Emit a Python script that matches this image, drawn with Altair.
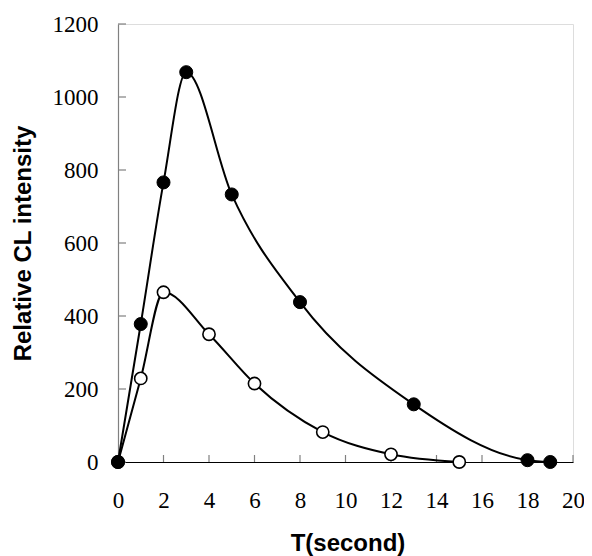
import altair as alt
import pandas as pd

# Filled-circle series
t_filled = [0, 1, 2, 3, 5, 8, 13, 18, 19]
v_filled = [0, 378, 766, 1068, 733, 438, 158, 5, 0]

# Open-circle series
t_open = [0, 1, 2, 4, 6, 9, 12, 15]
v_open = [0, 229, 465, 350, 215, 82, 21, 0]

x_ticks = [0, 2, 4, 6, 8, 10, 12, 14, 16, 18, 20]
y_ticks = [0, 200, 400, 600, 800, 1000, 1200]

W, H = 455, 438
SERIF = "Liberation Serif, Times New Roman, serif"

df_f = pd.DataFrame({"t": t_filled, "v": v_filled})
df_o = pd.DataFrame({"t": t_open, "v": v_open})
df_xt = pd.DataFrame({"t": x_ticks})
df_yt = pd.DataFrame({"v": y_ticks})

xs = alt.Scale(domain=[0, 20], nice=False, zero=False)
ys = alt.Scale(domain=[0, 1200], nice=False, zero=False)

x_axis = alt.Axis(
    values=x_ticks, grid=False, tickSize=0, ticks=False, format="d",
    labelFont=SERIF, labelFontSize=23, labelColor="black",
    labelBaseline="alphabetic", labelPadding=45, labelFlush=False,
    domainColor="black", domainWidth=1.2,
    title="T(second)", titleFont="Liberation Sans", titleFontSize=24,
    titleFontWeight="bold", titleColor="black",
    titleBaseline="alphabetic", titleY=88, titleX=W / 2 + 2, titleAlign="center",
)
y_axis = alt.Axis(
    values=y_ticks, grid=False, tickSize=0, ticks=False, format="d",
    labelFont=SERIF, labelFontSize=23, labelColor="black",
    labelPadding=20, labelFlush=False,
    domainColor="#808080", domainWidth=1.2,
    title="Relative CL intensity", titleFont="Liberation Sans", titleFontSize=24,
    titleFontWeight="bold", titleColor="black",
    titleAngle=270, titleBaseline="alphabetic", titleAlign="center",
    titleX=-88, titleY=H / 2,
)

line_o = alt.Chart(df_o).mark_line(color="black", strokeWidth=2, interpolate="monotone").encode(
    x=alt.X("t:Q", scale=xs, axis=x_axis),
    y=alt.Y("v:Q", scale=ys, axis=y_axis),
)
pts_o = alt.Chart(df_o).mark_point(shape="circle", filled=True, fill="white", stroke="black",
                                   strokeWidth=1.6, size=150, opacity=1).encode(
    x=alt.X("t:Q", scale=xs), y=alt.Y("v:Q", scale=ys))
line_f = alt.Chart(df_f).mark_line(color="black", strokeWidth=2, interpolate="monotone").encode(
    x=alt.X("t:Q", scale=xs), y=alt.Y("v:Q", scale=ys))
pts_f = alt.Chart(df_f).mark_point(shape="circle", filled=True, fill="black", stroke="black",
                                   strokeWidth=1, size=170, opacity=1).encode(
    x=alt.X("t:Q", scale=xs), y=alt.Y("v:Q", scale=ys))

xt = alt.Chart(df_xt).mark_rule(color="#808080", strokeWidth=1.2).encode(
    x=alt.X("t:Q", scale=xs), y=alt.value(H), y2=alt.value(H - 7))
yt = alt.Chart(df_yt).mark_rule(color="#808080", strokeWidth=1.2).encode(
    y=alt.Y("v:Q", scale=ys), x=alt.value(0), x2=alt.value(8))

chart = alt.layer(xt, yt, line_o, pts_o, line_f, pts_f).properties(
    width=W, height=H,
    autosize=alt.AutoSizeParams(type="none"),
    padding={"left": 110, "top": 16, "right": 11, "bottom": 100},
).configure_view(stroke=None).configure(background="white")

chart.save("out.html", embed_options={"renderer": "svg", "actions": False})
